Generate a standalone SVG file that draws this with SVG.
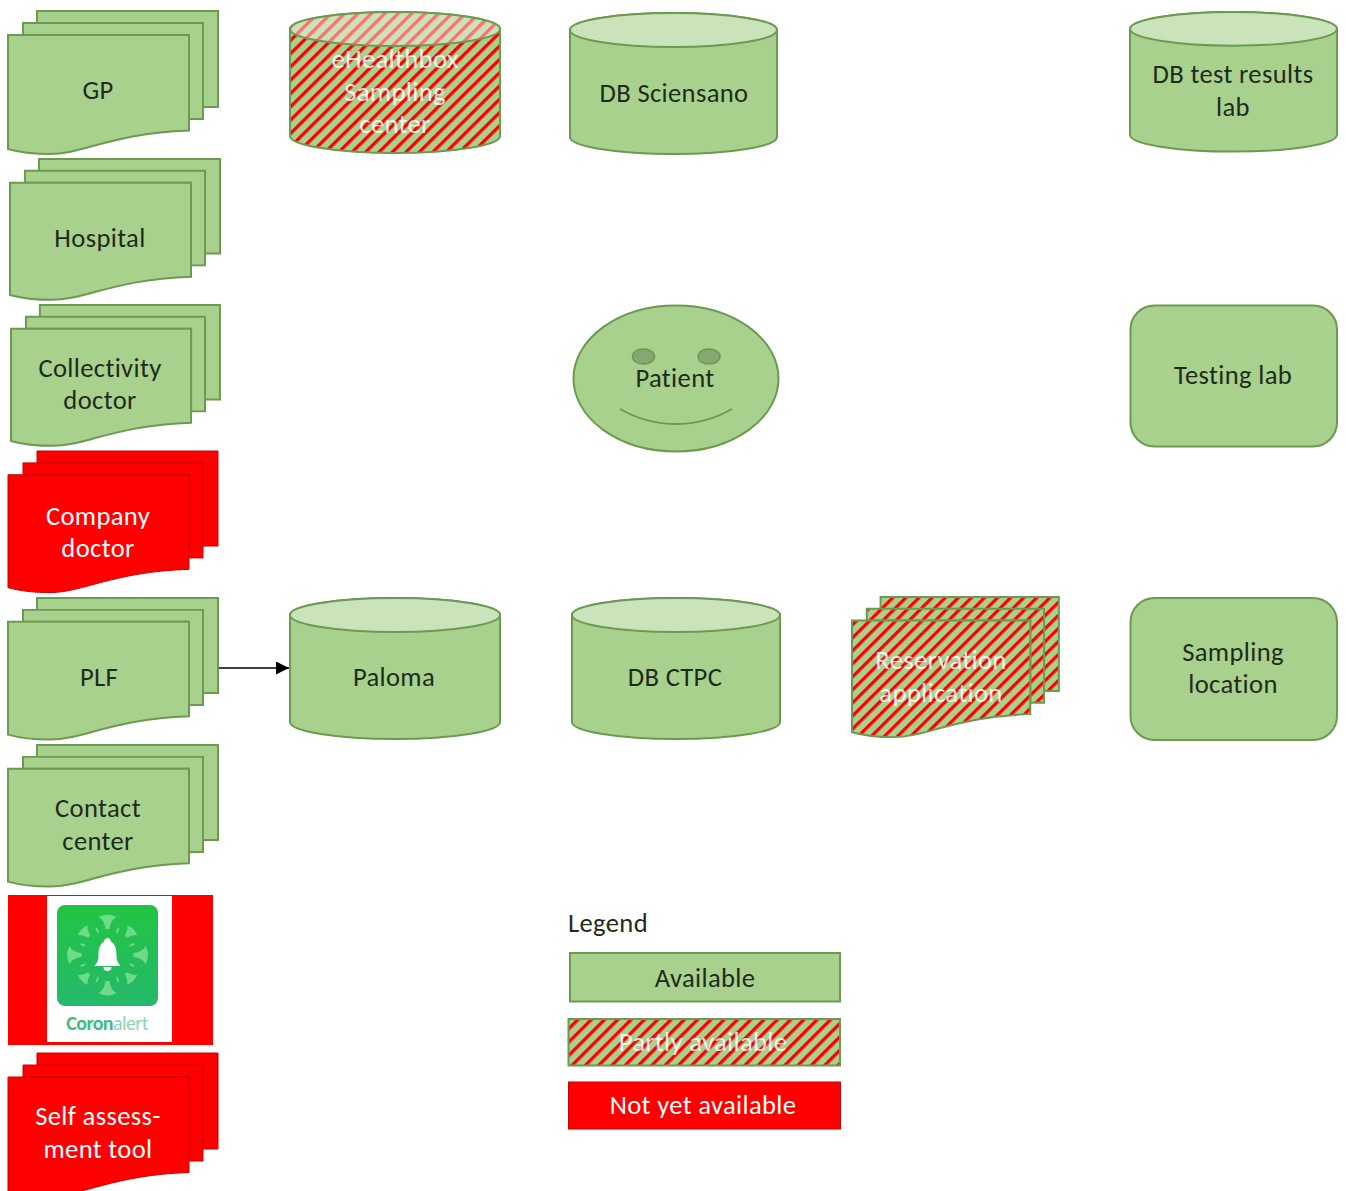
<svg xmlns="http://www.w3.org/2000/svg" width="1346" height="1191" viewBox="0 0 1346 1191">
<style>
text{font-family:Carlito,Lato,"Open Sans",sans-serif;font-size:26.600px;letter-spacing:.35px;text-anchor:middle;fill:#1f2b1a}
text.w{fill:#fff}
text.t{fill:#fff;opacity:.85}
.g{fill:#a9d18e;stroke:#6b9a50;stroke-width:2}
.r{fill:#f00;stroke:#c80000;stroke-width:1}
.h{fill:url(#hatch);stroke:#6b9a50;stroke-width:2}
.top{fill:#cbe3bb;stroke:#6b9a50;stroke-width:2}
.toph{fill:url(#hatchL);stroke:#6b9a50;stroke-width:2}
.eye{fill:#87a772;stroke:#6b9a50;stroke-width:1.500}
.ln{fill:none;stroke:#6b9a50;stroke-width:2}
#links path{fill:none;stroke:#000;stroke-width:1.300}
</style>
<defs>
<pattern id="hatch" patternUnits="userSpaceOnUse" width="9.400" height="9.400" patternTransform="rotate(45)"><rect width="9.400" height="9.400" fill="#a9d18e"/><rect width="3.300" height="9.400" fill="#f00"/></pattern>
<pattern id="hatchL" patternUnits="userSpaceOnUse" width="9.400" height="9.400" patternTransform="rotate(45)"><rect width="9.400" height="9.400" fill="#cbe3bb"/><rect width="3.300" height="9.400" fill="#ff7070"/></pattern>
<marker id="arr" markerUnits="userSpaceOnUse" markerWidth="14" markerHeight="14" refX="13" refY="6.500" orient="auto"><path d="M0,0L13,6.500L0,13Z" fill="#000"/></marker>
<linearGradient id="appg" x1="0" y1="0" x2="0" y2="1"><stop offset="0" stop-color="#22c444"/><stop offset="1" stop-color="#25b96a"/></linearGradient>
<path id="d3" d="M29,0H210V96H195V84H29Z"/>
<path id="d2" d="M15,12H195V108H181V24H15Z"/>
<path id="d1" d="M0,24H181V119.500C105,122 75,143 42,143C28,143 14,142 0,138Z"/>
<path id="cylb" d="M0,17V124A104,17 0 0 0 208,124V17A104,17 0 0 0 0,17Z"/>
<ellipse id="cylt" cx="104" cy="17" rx="104" ry="17"/>
<g id="spk"><path d="M-9,-38Q0,-43 9,-38Q3,-35 2,-26H-2Q-3,-35 -9,-38Z" fill="#6fdb8a"/></g>
<g id="spd"><path d="M-7,-35Q0,-38 7,-35Q3,-32 1.500,-26H-1.500Q-3,-32 -7,-35Z" fill="#6fdb8a"/></g>
<path id="dash" d="M0,-29V-24" stroke="#6fdb8a" stroke-width="1.800" fill="none"/>
</defs>

<g id="links"><path d="M219,668H289" marker-end="url(#arr)"/></g>

<g id="gp" transform="translate(8,11)"><use href="#d3" class="g"/><use href="#d2" class="g"/><use href="#d1" class="g"/></g>
<text x="98" y="99">GP</text>

<g id="hospital" transform="translate(10,159) scale(1,.985)"><use href="#d3" class="g"/><use href="#d2" class="g"/><use href="#d1" class="g"/></g>
<text x="100" y="247">Hospital</text>

<g id="collectivity" transform="translate(11,305) scale(.995,.985)"><use href="#d3" class="g"/><use href="#d2" class="g"/><use href="#d1" class="g"/></g>
<text x="100" y="377">Collectivity</text><text x="100" y="409">doctor</text>

<g id="company" transform="translate(8,451) scale(1,.99)"><use href="#d3" class="r"/><use href="#d2" class="r"/><use href="#d1" class="r"/></g>
<text class="w" x="98" y="525">Company</text><text class="w" x="98" y="557">doctor</text>

<g id="plf" transform="translate(8,598) scale(1,.99)"><use href="#d3" class="g"/><use href="#d2" class="g"/><use href="#d1" class="g"/></g>
<text x="99" y="686">PLF</text>

<g id="contact" transform="translate(8,745) scale(1,.99)"><use href="#d3" class="g"/><use href="#d2" class="g"/><use href="#d1" class="g"/></g>
<text x="98" y="817">Contact</text><text x="98" y="850">center</text>

<g id="coronalert">
<rect x="8" y="895" width="205" height="150" fill="#f00"/>
<rect x="47" y="896" width="125" height="146" fill="#fff"/>
<rect x="57" y="905" width="101" height="101" rx="8" fill="url(#appg)"/>
<g transform="translate(107.500,955)"><use href="#spk"/><use href="#spk" transform="rotate(90)"/><use href="#spk" transform="rotate(180)"/><use href="#spk" transform="rotate(270)"/><use href="#spd" transform="rotate(45)"/><use href="#spd" transform="rotate(135)"/><use href="#spd" transform="rotate(225)"/><use href="#spd" transform="rotate(315)"/><use href="#dash" transform="rotate(22.500)"/><use href="#dash" transform="rotate(67.500)"/><use href="#dash" transform="rotate(112.500)"/><use href="#dash" transform="rotate(157.500)"/><use href="#dash" transform="rotate(202.500)"/><use href="#dash" transform="rotate(247.500)"/><use href="#dash" transform="rotate(292.500)"/><use href="#dash" transform="rotate(337.500)"/>
<path d="M0,-17C-3,-17 -3,-14 -4,-13C-9,-10 -9,-3 -9,2C-9,6 -11,8 -13,11H13C11,8 9,6 9,2C9,-3 9,-10 4,-13C3,-14 3,-17 0,-17ZM-4,12A4,4 0 0 0 4,12Z" fill="#fff"/></g>
<text x="107" y="1030" style="font-size:20px;font-weight:700;fill:#3fbb7c;letter-spacing:-.6px">Coron<tspan style="font-weight:400;fill:#8ed6b0">alert</tspan></text>
</g>

<g id="selfassess" transform="translate(8,1053)"><use href="#d3" class="r"/><use href="#d2" class="r"/><use href="#d1" class="r"/></g>
<text class="w" x="98" y="1125">Self assess-</text><text class="w" x="98" y="1158">ment tool</text>

<g id="ehealthbox" transform="translate(290,12) scale(1.01,1)"><use href="#cylb" class="h"/><use href="#cylt" class="toph"/></g>
<text class="t" x="395" y="68">eHealthbox</text><text class="t" x="395" y="101">Sampling</text><text class="t" x="395" y="133">center</text>

<g id="sciensano" transform="translate(570,13) scale(.995,1)"><use href="#cylb" class="g"/><use href="#cylt" class="top"/></g>
<text x="674" y="102">DB Sciensano</text>

<g id="testresults" transform="translate(1130,12) scale(.995,.99)"><use href="#cylb" class="g"/><use href="#cylt" class="top"/></g>
<text x="1233" y="83">DB test results</text><text x="1233" y="116">lab</text>

<g id="patient">
<ellipse class="g" cx="676" cy="378.500" rx="102.500" ry="73"/>
<ellipse class="eye" cx="643.500" cy="356.500" rx="11" ry="7.500"/>
<ellipse class="eye" cx="709" cy="356.500" rx="11" ry="7.500"/>
<path class="ln" d="M620,409C655,429 697,429 732,409"/>
</g>
<text x="675" y="387">Patient</text>

<g id="testinglab"><rect class="g" x="1130.500" y="305.500" width="206.500" height="141" rx="24"/></g>
<text x="1233" y="384">Testing lab</text>

<g id="paloma" transform="translate(290,598) scale(1.01,1)"><use href="#cylb" class="g"/><use href="#cylt" class="top"/></g>
<text x="394" y="686">Paloma</text>

<g id="ctpc" transform="translate(572,598)"><use href="#cylb" class="g"/><use href="#cylt" class="top"/></g>
<text x="675" y="686">DB CTPC</text>

<g id="reservation" transform="translate(852,597) scale(.985,.98)"><use href="#d3" class="h"/><use href="#d2" class="h"/><use href="#d1" class="h"/></g>
<text class="t" x="941" y="669">Reservation</text><text class="t" x="941" y="702">application</text>

<g id="sampling"><rect class="g" x="1130.500" y="598" width="206.500" height="142" rx="24"/></g>
<text x="1233" y="661">Sampling</text><text x="1233" y="693">location</text>

<g id="legend">
<text x="608" y="932">Legend</text>
<rect class="g" x="570" y="953" width="270" height="48.500"/>
<text x="705" y="987">Available</text>
<rect class="h" x="568.500" y="1019" width="271.500" height="46.500"/>
<text class="t" x="703" y="1051">Partly available</text>
<rect class="r" x="568.500" y="1082" width="272" height="47"/>
<text class="w" x="703" y="1114">Not yet available</text>
</g>
</svg>
